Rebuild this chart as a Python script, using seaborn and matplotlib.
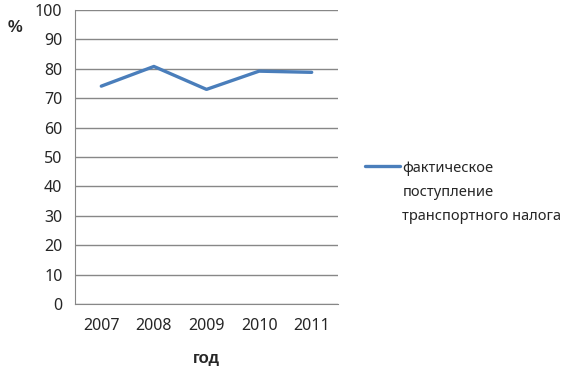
import matplotlib
matplotlib.use("Agg")
import matplotlib.pyplot as plt
import seaborn as sns
import pandas as pd

# данные
years = ["2007", "2008", "2009", "2010", "2011"]
values = [74.1, 80.8, 73.0, 79.2, 78.8]
legend_lines = ["фактическое", "поступление", "транспортного налога"]

df = pd.DataFrame({"год": years, "значение": values})

sns.set_style("white")
plt.rcParams["font.family"] = ["Noto Sans", "DejaVu Sans"]

fig = plt.figure(figsize=(5.65, 3.69), dpi=100)
ax = fig.add_axes([75 / 565, 1 - 304 / 369, (338 - 75) / 565, (304 - 10) / 369])

grid_col = "#878787"
sns.lineplot(data=df, x="год", y="значение", ax=ax, color="#4a7ebb",
             linewidth=2.4, label=legend_lines[0], sort=False)

ax.set_ylim(0, 100)
ax.set_xlim(-0.5, len(years) - 0.5)
ax.set_yticks(range(0, 101, 10))
ax.yaxis.grid(True, color=grid_col, linewidth=1)
ax.set_axisbelow(True)

# деления между категориями
ax.set_xticks([i - 0.5 for i in range(len(years) + 1)], minor=True)
ax.tick_params(axis="x", which="major", length=0, pad=10, labelsize=11.5)
ax.tick_params(axis="x", which="minor", length=5, color=grid_col, direction="out")
ax.tick_params(axis="y", length=5, color=grid_col, direction="out", labelsize=11.5, pad=4)

for s in ["top", "right"]:
    ax.spines[s].set_visible(False)
ax.spines["left"].set_color(grid_col)
ax.spines["bottom"].set_color(grid_col)

bold = dict(family=["Liberation Sans", "DejaVu Sans"], fontweight="bold", fontsize=12)
ax.set_xlabel("год", labelpad=12, **bold)
ax.set_ylabel("")
fig.text(8 / 565, 1 - 27 / 369, "%", va="center", **bold)

leg = ax.legend(loc="center left", bbox_to_anchor=(358 / 565, 1 - 168 / 369),
                bbox_transform=fig.transFigure, frameon=False, fontsize=10.5,
                handlelength=2.4, handletextpad=0.15, borderpad=0)

# остальные строки подписи легенды под первой
fig.canvas.draw()
bb = leg.get_texts()[0].get_window_extent().transformed(fig.transFigure.inverted())
for i, line in enumerate(legend_lines[1:], start=1):
    fig.text(bb.x0, (bb.y0 + bb.y1) / 2 - i * 24 / 369, line, fontsize=10.5,
             va="center", ha="left")

fig.savefig("out.png", dpi=100)
